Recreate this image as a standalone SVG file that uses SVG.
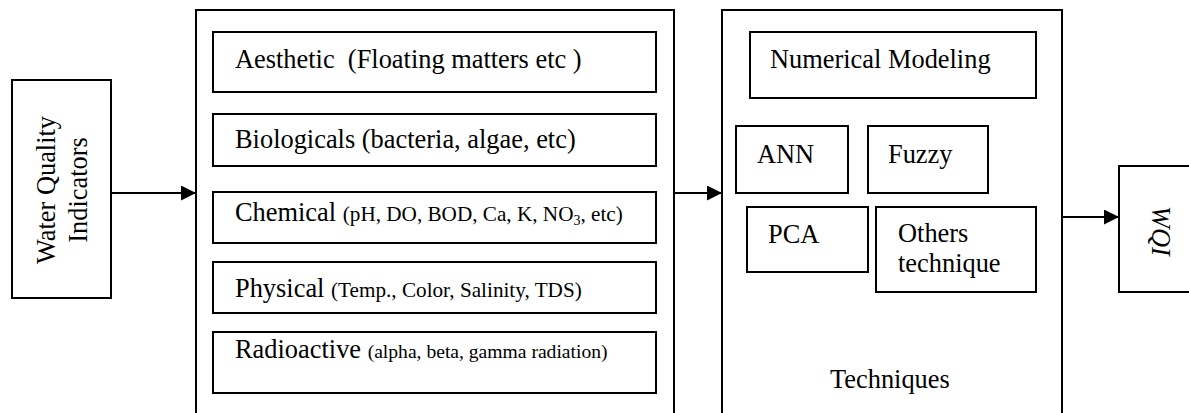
<svg xmlns="http://www.w3.org/2000/svg" width="1189" height="413" viewBox="0 0 1189 413">
<style>
.b{fill:#fff;stroke:#000;stroke-width:2}
.t{font-family:"Liberation Serif","Times New Roman",serif;font-size:26.4px;fill:#000}
.s{font-size:21.2px}
.r{font-size:19.6px}
.c{stroke:#000;stroke-width:2;fill:none}
</style>
<defs>
<marker id="ah" markerUnits="userSpaceOnUse" markerWidth="16" markerHeight="16" refX="15" refY="7.5" orient="auto">
<path d="M0,0 L15,7.5 L0,15 Z" fill="#000"/>
</marker>
</defs>
<rect width="1189" height="413" fill="#fff"/>
<g id="indicators">
<rect class="b" x="12" y="80" width="99" height="218"/>
<text class="t" text-anchor="middle" transform="translate(55,190) rotate(-90)">Water Quality</text>
<text class="t" text-anchor="middle" transform="translate(87,190) rotate(-90)">Indicators</text>
</g>
<g id="parameters">
<rect class="b" x="196" y="10" width="478" height="420"/>
<g id="aesthetic"><rect class="b" x="213" y="32" width="443" height="60"/>
<text class="t" x="235" y="68" xml:space="preserve">Aesthetic  (Floating matters etc )</text></g>
<g id="biological"><rect class="b" x="213" y="114" width="443" height="52"/>
<text class="t" x="235" y="148">Biologicals (bacteria, algae, etc)</text></g>
<g id="chemical"><rect class="b" x="213" y="192" width="443" height="51"/>
<text class="t" x="235" y="221">Chemical <tspan class="s">(pH, DO, BOD, Ca, K, NO<tspan font-size="14" dy="4">3</tspan><tspan dy="-4">, etc)</tspan></tspan></text></g>
<g id="physical"><rect class="b" x="213" y="262" width="443" height="51"/>
<text class="t" x="235" y="297">Physical <tspan class="s">(Temp., Color, Salinity, TDS)</tspan></text></g>
<g id="radioactive"><rect class="b" x="213" y="332" width="443" height="61"/>
<text class="t" x="235" y="358">Radioactive <tspan class="r">(alpha, beta, gamma radiation)</tspan></text></g>
</g>
<g id="techniques">
<rect class="b" x="722" y="10" width="340" height="420"/>
<g id="numerical"><rect class="b" x="750" y="32" width="286" height="66"/>
<text class="t" x="770" y="68">Numerical Modeling</text></g>
<g id="ann"><rect class="b" x="736" y="126" width="112" height="67"/>
<text class="t" x="757" y="163">ANN</text></g>
<g id="fuzzy"><rect class="b" x="868" y="126" width="120" height="67"/>
<text class="t" x="888" y="163">Fuzzy</text></g>
<g id="pca"><rect class="b" x="747" y="207" width="121" height="65"/>
<text class="t" x="768" y="243">PCA</text></g>
<g id="others"><rect class="b" x="876" y="207" width="160" height="85"/>
<text class="t" x="898" y="242">Others</text>
<text class="t" x="898" y="272">technique</text></g>
<text class="t" x="830" y="388">Techniques</text>
</g>
<g id="wqi">
<rect class="b" x="1119" y="166" width="80" height="126"/>
<text class="t" font-style="italic" text-anchor="middle" transform="translate(1152,231) rotate(90)">WQI</text>
</g>
<g id="connectors">
<line class="c" x1="111" y1="193" x2="196" y2="193" marker-end="url(#ah)"/>
<line class="c" x1="674" y1="193" x2="722" y2="193" marker-end="url(#ah)"/>
<line class="c" x1="1062" y1="217" x2="1119" y2="217" marker-end="url(#ah)"/>
</g>
</svg>
